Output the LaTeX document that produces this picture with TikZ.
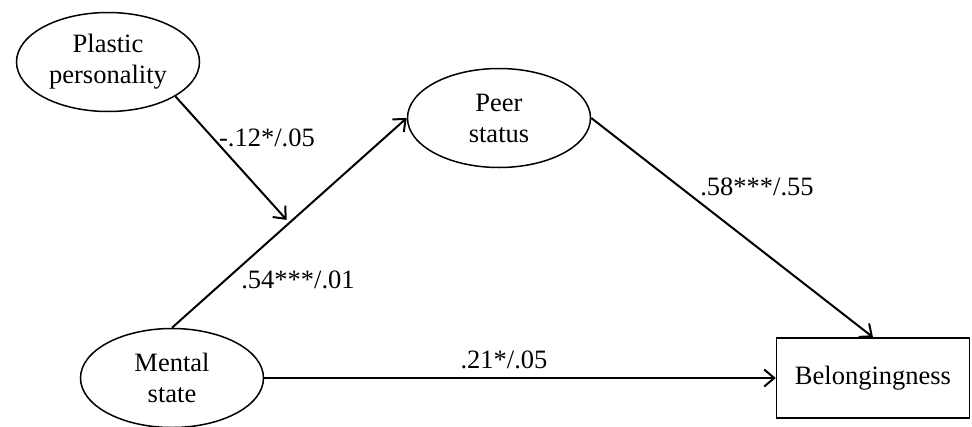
\documentclass[tikz,border=0pt]{standalone}
\usepackage{fontspec}
\setmainfont{Liberation Serif}
\usepackage{tikz}
\usetikzlibrary{shapes,arrows.meta,positioning,calc}

\begin{document}
\begin{tikzpicture}[x=1pt, y=-1pt,
        every node/.style={font=\fontsize{26.5}{31}\selectfont},
        latent/.style={ellipse, draw, line width=1.5pt, inner sep=0pt, align=center, minimum width=183pt, minimum height=99pt},
        observed/.style={rectangle, draw, line width=1.5pt, inner sep=0pt, minimum width=193pt, minimum height=80pt},
        effect/.style={line width=2pt, -{Straight Barb[length=10pt, width=17pt, line width=2pt]}},
        coef/.style={inner sep=0pt}]
    \useasboundingbox (0,0) rectangle (972,426);
    \node[latent] (plastic) at (108,62) {Plastic\\personality};
    \node[latent] (peer) at (499,118) {Peer\\status};
    \node[latent] (mental) at (172,378) {Mental\\state};
    \node[observed] (belong) at (873,378) {Belongingness};

    \draw[effect] (mental.north) -- coordinate[pos=0.5] (moderation) (peer.west);
    \draw[effect, shorten >=4pt] (plastic.-27) -- (moderation);
    \draw[effect] (peer.east) -- (belong.north);
    \draw[effect] (mental.east) -- (belong.west);

    \node[coef] (c12) at (267,138) {-.12*/.05};
    \node[coef] (c54) at (298,280) {.54***/.01};
    \node[coef] (c58) at (757,187) {.58***/.55};
    \node[coef] (c21) at (504,360) {.21*/.05};
\end{tikzpicture}
\end{document}
